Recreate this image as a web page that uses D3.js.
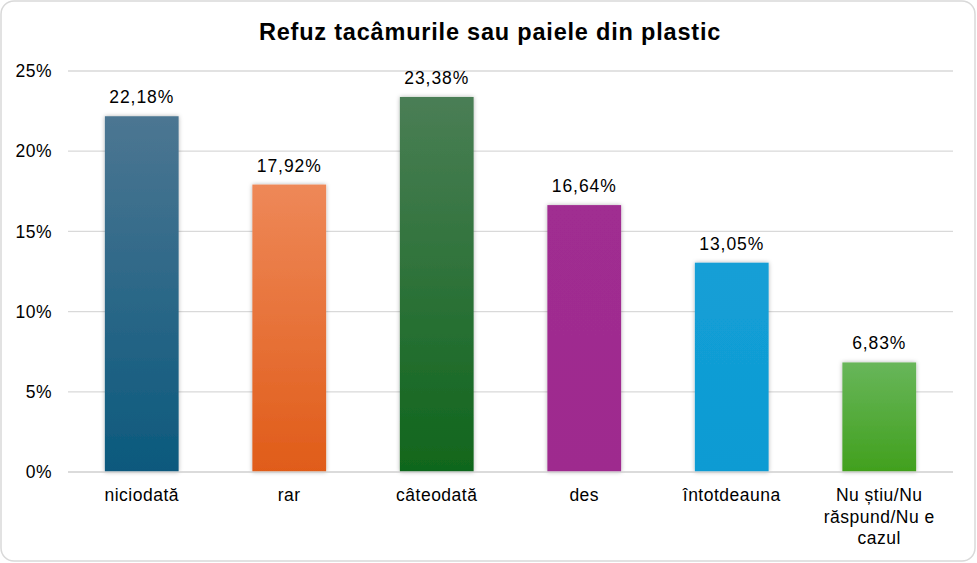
<!DOCTYPE html>
<html><head><meta charset="utf-8">
<script src="https://cdn.jsdelivr.net/npm/d3@7"></script>
<style>html,body{margin:0;padding:0;background:#fff;}svg{display:block;font-family:"Liberation Sans",Arial,sans-serif;}</style>
</head><body>
<script>
const title = "Refuz tacâmurile sau paiele din plastic";
const categories = ["niciodată","rar","câteodată","des","întotdeauna","Nu știu/Nu răspund/Nu e cazul"];
const labelLines = [["niciodată"],["rar"],["câteodată"],["des"],["întotdeauna"],["Nu știu/Nu","răspund/Nu e","cazul"]];
const values = [22.18, 17.92, 23.38, 16.64, 13.05, 6.83];
const valueLabels = ["22,18%","17,92%","23,38%","16,64%","13,05%","6,83%"];
const yTicks = [0,5,10,15,20,25];
const topColors = ["#4c7692","#ee8858","#4a7e55","#a02d91","#139fd6","#68b65a"];
const bottomColors = ["#0b597d","#e05c19","#10661c","#9e2b8e","#0f9bd3","#41a01d"];

const W=977,H=563;
const svg=d3.select("body").append("svg").attr("width",W).attr("height",H);
const defs=svg.append("defs");
const f=defs.append("filter").attr("id","sh").attr("x","-20%").attr("y","-10%").attr("width","140%").attr("height","120%");
f.append("feDropShadow").attr("dx",0).attr("dy",0).attr("stdDeviation",2).attr("flood-color","#000").attr("flood-opacity",0.3);
categories.forEach((c,i)=>{
  const g=defs.append("linearGradient").attr("id","g"+i).attr("x1",0).attr("y1",0).attr("x2",0).attr("y2",1);
  g.append("stop").attr("offset","0%").attr("stop-color",topColors[i]);
  g.append("stop").attr("offset","100%").attr("stop-color",bottomColors[i]);
});

svg.append("rect").attr("x",1).attr("y",1).attr("width",W-3).attr("height",H-3).attr("rx",13)
  .attr("fill","#fff").attr("stroke","#d9d9d9").attr("stroke-width",1.5);

svg.append("text").attr("x",490).attr("y",40).attr("text-anchor","middle")
  .attr("font-size",23.5).attr("font-weight","bold").attr("letter-spacing",0.8).attr("fill","#000").text(title);

const x=d3.scaleBand().domain(categories).range([68,953]).paddingInner(0.5).paddingOuter(0.25);
const y=d3.scaleLinear().domain([0,25]).range([472,71]);

const grid=svg.append("g");
grid.selectAll("line").data(yTicks).join("line")
  .attr("x1",68).attr("x2",953).attr("y1",d=>y(d)).attr("y2",d=>y(d))
  .attr("stroke","#d9d9d9").attr("stroke-width",1.3);

const ya=svg.append("g").attr("transform","translate(60,0)")
  .call(d3.axisLeft(y).tickValues(yTicks).tickSize(0).tickPadding(8).tickFormat(d=>d+"%"));
ya.select(".domain").remove();
ya.selectAll("text").attr("font-size",17.5).attr("letter-spacing",0.5).attr("fill","#000").attr("font-family","Liberation Sans, Arial, sans-serif");

svg.append("g").selectAll("rect").data(values).join("rect")
  .attr("x",(d,i)=>x(categories[i])).attr("width",x.bandwidth())
  .attr("y",d=>y(d)).attr("height",d=>y(0)-y(d))
  .attr("fill",(d,i)=>"url(#g"+i+")").attr("filter","url(#sh)");

svg.append("line").attr("x1",68).attr("x2",953).attr("y1",y(0)).attr("y2",y(0)).attr("stroke","#d9d9d9").attr("stroke-width",1.5);

svg.append("g").selectAll("text").data(values).join("text")
  .attr("x",(d,i)=>x(categories[i])+x.bandwidth()/2).attr("y",d=>y(d)-13)
  .attr("text-anchor","middle").attr("font-size",17.5).attr("letter-spacing",0.9).attr("fill","#000")
  .text((d,i)=>valueLabels[i]);

const xl=svg.append("g");
labelLines.forEach((lines,i)=>{
  const t=xl.append("text").attr("x",x(categories[i])+x.bandwidth()/2).attr("y",501)
    .attr("text-anchor","middle").attr("font-size",17.5).attr("letter-spacing",0.5).attr("fill","#000");
  lines.forEach((l,j)=>t.append("tspan").attr("x",x(categories[i])+x.bandwidth()/2).attr("dy",j?21.5:0).text(l));
});
</script>
</body></html>
